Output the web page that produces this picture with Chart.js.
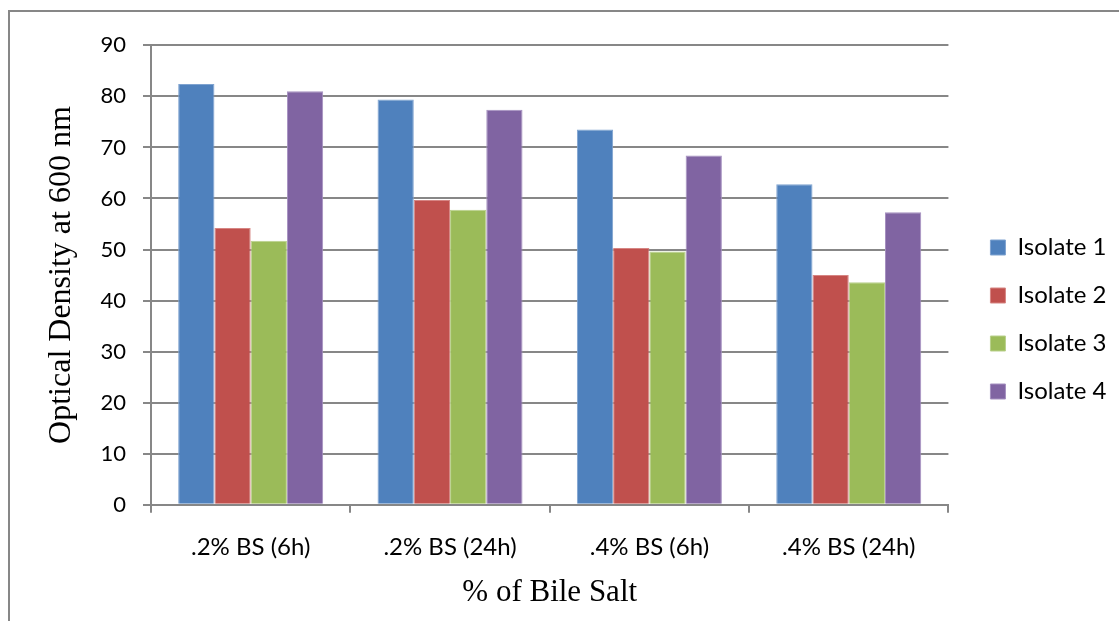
<!DOCTYPE html>
<html>
<head>
<meta charset="utf-8">
<title>Optical Density at 600 nm by % of Bile Salt</title>
<script src="https://cdn.jsdelivr.net/npm/chart.js@4/dist/chart.umd.min.js"></script>
<style>
  html, body { margin: 0; padding: 0; background: #fff; overflow: hidden; width: 1119px; height: 621px; }
  #frame {
    position: absolute; left: 8px; top: 10px;
    width: 1200px; height: 700px;
    border: 2px solid #878787; background: #fff;
  }
  #chart { position: absolute; left: 0; top: 0; }
</style>
</head>
<body>
<div id="frame"><canvas id="chart" width="1109" height="615"></canvas></div>
<script>
// Bile salt treatments (categories)
const categories = ['.2% BS (6h)', '.2% BS (24h)', '.4% BS (6h)', '.4% BS (24h)'];

// Optical density readings for each isolate
const isolate1 = [82.4, 79.4, 73.5, 62.8];
const isolate2 = [54.2, 59.7, 50.3, 45.0];
const isolate3 = [51.7, 57.8, 49.6, 43.6];
const isolate4 = [81.0, 77.4, 68.4, 57.3];

const seriesNames = ['Isolate 1', 'Isolate 2', 'Isolate 3', 'Isolate 4'];
const seriesColors = ['#4F81BD', '#C0504D', '#9BBB59', '#8064A2'];
const seriesEdges = ['#7FA3D0', '#D68583', '#B9D08C', '#A590C0'];

// Value axis ticks
const yTicks = [0, 10, 20, 30, 40, 50, 60, 70, 80, 90];

const GRID = '#878787';
const series = [isolate1, isolate2, isolate3, isolate4];

new Chart(document.getElementById('chart'), {
  type: 'bar',
  data: {
    labels: categories,
    datasets: series.map((vals, i) => ({
      label: seriesNames[i],
      data: vals,
      backgroundColor: seriesColors[i],
      borderColor: seriesEdges[i],
      borderWidth: 1,
      categoryPercentage: 4 / 5.5,
      barPercentage: 1.0
    }))
  },
  options: {
    responsive: false,
    animation: false,
    devicePixelRatio: 1,
    layout: { padding: { top: 0, left: 0, right: 2.5, bottom: 0 } },
    plugins: {
      tooltip: { enabled: false },
      legend: {
        position: 'right',
        align: 'center',
        labels: {
          boxWidth: 15,
          boxHeight: 15,
          padding: 24,
          color: '#000',
          font: { family: 'Lato', size: 24 }
        }
      }
    },
    scales: {
      x: {
        type: 'category',
        position: 'bottom',
        grid: {
          display: true,
          drawOnChartArea: false,
          drawTicks: true,
          tickLength: 8,
          color: GRID,
          lineWidth: 2,
          offset: true
        },
        border: { display: true, color: GRID, width: 2 },
        ticks: {
          color: '#000',
          padding: 20,
          maxRotation: 0,
          font: { family: 'Lato', size: 24 }
        },
        title: {
          display: true,
          text: '% of Bile Salt',
          color: '#000',
          font: { family: 'Liberation Serif', size: 31 },
          padding: { top: 0, bottom: 16 }
        },
        afterFit: s => { s.height = 122.2; }
      },
      x2: {
        type: 'linear',
        position: 'top',
        display: true,
        grid: { display: false, drawTicks: false },
        border: { display: false },
        ticks: { display: false },
        afterFit: s => { s.height = 33.3; }
      },
      y: {
        type: 'linear',
        position: 'left',
        min: 0,
        max: 90,
        afterBuildTicks: s => { s.ticks = yTicks.map(v => ({ value: v })); },
        grid: {
          color: GRID,
          lineWidth: 2,
          drawTicks: true,
          tickLength: 8
        },
        border: { display: true, color: GRID, width: 2 },
        ticks: {
          color: '#000',
          padding: 17,
          font: { family: 'Lato', size: 22 }
        },
        title: {
          display: true,
          text: 'Optical Density at 600 nm',
          color: '#000',
          font: { family: 'Liberation Serif', size: 32 },
          padding: { top: 32, bottom: 0 }
        },
        afterFit: s => { s.width = 141; }
      },
      y2: {
        type: 'linear',
        position: 'right',
        display: true,
        grid: { display: false, drawTicks: false },
        border: { display: false },
        ticks: { display: false },
        afterFit: s => { s.width = 18; }
      }
    }
  }
});
</script>
</body>
</html>
